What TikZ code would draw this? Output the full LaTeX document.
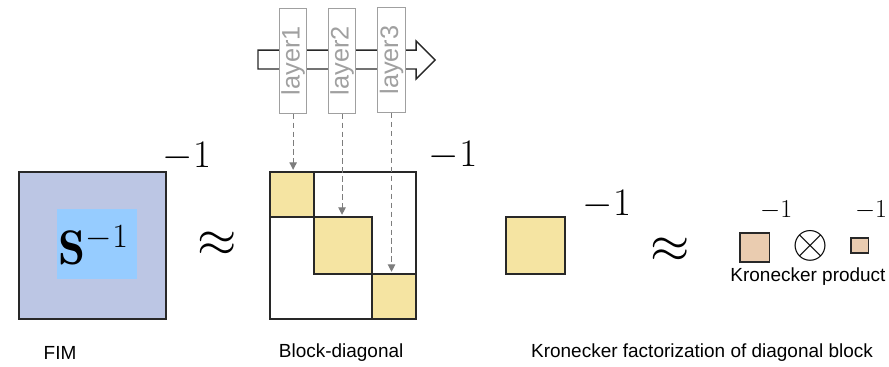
\RequirePackage{fix-cm}
\documentclass[tikz,border=0pt]{standalone}
\usepackage{fontspec}
\setsansfont{Liberation Sans}
\usepackage{tikz}
\usetikzlibrary{
    arrows.meta,
    positioning,
    calc
}
\usepackage{amsmath,amssymb}
\usepackage{xcolor}
\definecolor{fimfill}{RGB}{188,198,228}
\definecolor{invfill}{RGB}{150,204,255}
\definecolor{blockfill}{RGB}{245,228,162}
\definecolor{kronfill}{RGB}{234,204,176}
\definecolor{layergray}{RGB}{160,160,160}
\definecolor{dashgray}{RGB}{125,125,125}
\definecolor{edgegray}{RGB}{40,40,40}
\tikzset{
    % Matrices
    fimbox/.style={
        rectangle,
        draw=edgegray,
        line width=1.3pt,
        fill=fimfill,
        minimum width=4.9cm,
        minimum height=4.9cm
    },
    outerbox/.style={
        rectangle,
        draw=edgegray,
        line width=1.3pt,
        fill=white,
        minimum width=4.87cm,
        minimum height=4.9cm
    },
    diagblock/.style={
        rectangle,
        draw=edgegray,
        line width=1.3pt,
        fill=blockfill,
        inner sep=0pt,
        outer sep=0pt
    },
    kronblock/.style={
        rectangle,
        draw=edgegray,
        line width=1.2pt,
        fill=kronfill,
        inner sep=0pt
    },
    % Layers
    layerbox/.style={
        rectangle,
        draw=layergray,
        line width=0.9pt,
        fill=white,
        inner sep=0pt,
        minimum width=3.5cm,
        minimum height=0.92cm,
        rotate=90,
        text=layergray,
        font=\sffamily\fontsize{24}{24}\selectfont
    },
    % Arrows
    flowarrow/.style={
        line width=1.3pt,
        draw=edgegray,
        fill=white,
        line join=miter
    },
    dasharrow/.style={
        -{Triangle[width=7pt,length=7pt]},
        line width=1pt,
        draw=dashgray,
        dash pattern=on 5pt off 3.5pt,
        shorten >=2pt
    },
    % Labels
    biginv/.style={font=\fontsize{37}{37}\selectfont},
    smallinv/.style={font=\fontsize{24.5}{24.5}\selectfont},
    approxsym/.style={font=\fontsize{48}{48}\selectfont},
    caption/.style={font=\sffamily\fontsize{18}{20}\selectfont}
}

\begin{document}
\begin{tikzpicture}[inner sep=0pt]

    \useasboundingbox (0,0) rectangle (29.63,12.2);

    % FIM
    \node[fimbox] (fim) at (3.08,4.02) {};
    \node[rectangle, fill=invfill, minimum width=2.67cm, minimum height=2.33cm] (inv) at (3.23,4.07) {};
    \node[font=\fontsize{46}{46}\selectfont] (sinv) at (3.12,4.02) {$\mathbf{S}^{-1}$};
    \node[biginv] (fimexp) at (6.23,6.97) {$-1$};
    \node[caption] (fimcap) at (2.0,0.45) {FIM};

    \node[approxsym] (approx1) at (7.23,4.07) {$\approx$};

    % Block-diagonal
    \node[outerbox] (diag) at (11.43,4.02) {};
    \node[diagblock, minimum width=1.93cm, minimum height=1.9cm] (blk2) at (11.43,4.02) {};
    \node[diagblock, minimum width=1.47cm, minimum height=1.5cm, anchor=south east] (blk1) at (blk2.north west) {};
    \node[diagblock, minimum width=1.47cm, minimum height=1.5cm, anchor=north west] (blk3) at (blk2.south east) {};
    \node[biginv] (diagexp) at (15.1,7.03) {$-1$};
    \node[caption] (diagcap) at (11.37,0.45) {Block-diagonal};

    % Forward pass through the layers
    \draw[flowarrow] (8.6,9.9) -- (13.87,9.9) -- (13.87,9.57) -- (14.5,10.2)
        -- (13.87,10.83) -- (13.87,10.53) -- (8.6,10.53) -- cycle;
    \node[layerbox] (layer1) at (9.77,10.18) {layer1};
    \node[layerbox] (layer2) at (11.4,10.18) {layer2};
    \node[layerbox] (layer3) at (13.05,10.2) {layer3};

    \draw[dasharrow] (layer1.west) -- (layer1.west |- blk1.north);
    \draw[dasharrow] (layer2.west) -- (layer2.west |- blk2.north);
    \draw[dasharrow] (layer3.west) -- (layer3.west |- blk3.north);

    % Kronecker factorization
    \node[diagblock, minimum width=1.97cm, minimum height=1.9cm] (blk) at (17.85,4.02) {};
    \node[biginv] (blkexp) at (20.23,5.37) {$-1$};

    \node[approxsym] (approx2) at (22.33,3.87) {$\approx$};

    \node[kronblock, minimum size=0.97cm] (fac1) at (25.15,3.95) {};
    \node[smallinv] (fac1exp) at (25.87,5.2) {$-1$};
    \node[font=\fontsize{44}{44}\selectfont] (kron) at (27.0,4.0) {$\otimes$};
    \node[kronblock, minimum width=0.57cm, minimum height=0.5cm] (fac2) at (28.65,4.02) {};
    \node[smallinv] (fac2exp) at (29.03,5.2) {$-1$};
    \node[caption] (kroncap) at (26.93,2.97) {Kronecker product};

    \node[caption] (factcap) at (23.4,0.45) {Kronecker factorization of diagonal block};

\end{tikzpicture}
\end{document}
